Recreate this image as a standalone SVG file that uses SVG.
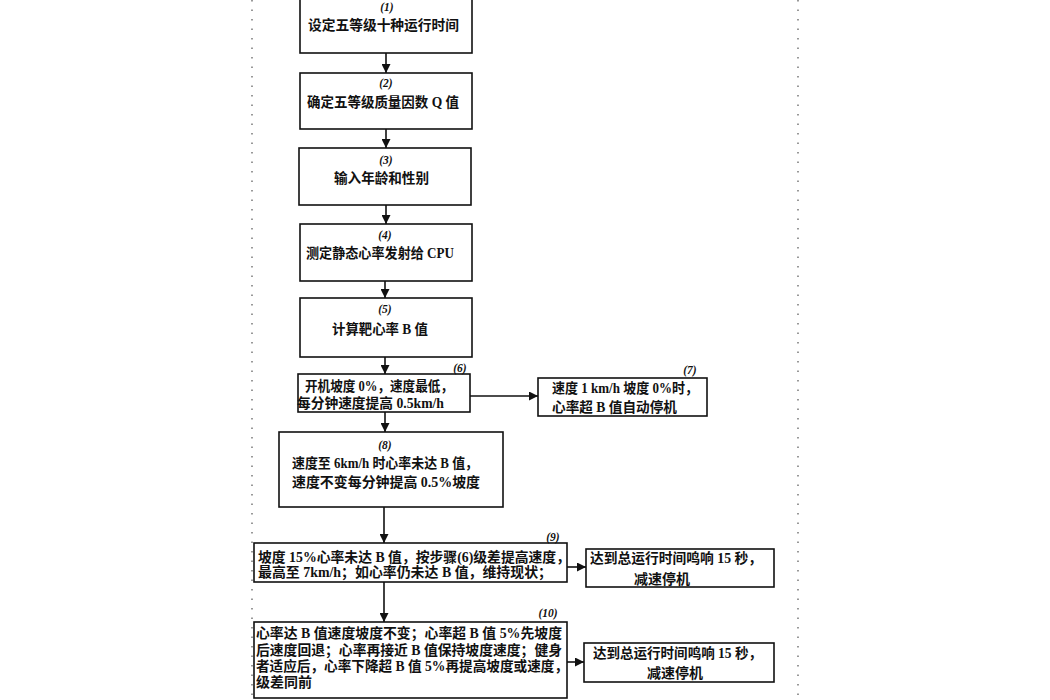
<svg xmlns="http://www.w3.org/2000/svg" width="1050" height="700" viewBox="0 0 1050 700">
<style>
.box{fill:#fff;stroke:#111;stroke-width:1.6}
.t{font-family:"Liberation Serif","Noto Sans CJK SC",serif;font-weight:bold;font-size:14px;fill:#111}
.n{font-family:"Liberation Serif","Noto Sans CJK SC",serif;font-weight:bold;font-style:italic;font-size:11.5px;fill:#111;text-anchor:middle}
.c{stroke:#111;stroke-width:1.6;fill:none;marker-end:url(#ah)}
.edge{stroke:#555;stroke-width:1.2;stroke-dasharray:1.5 8;fill:none}
</style>
<defs>
<marker id="ah" viewBox="0 0 10 10" refX="10" refY="5" markerWidth="9" markerHeight="9" markerUnits="userSpaceOnUse" orient="auto">
<path d="M0,0 L10,5 L0,10 z" fill="#111"/>
</marker>
</defs>
<rect width="1050" height="700" fill="#fff"/>
<g id="page-edges">
<line class="edge" x1="252" y1="0" x2="252" y2="700"/>
<line class="edge" x1="798" y1="0" x2="798" y2="700"/>
</g>
<g id="connectors">
<line class="c" x1="386" y1="53" x2="386" y2="73"/>
<line class="c" x1="386" y1="129" x2="386" y2="148"/>
<line class="c" x1="386" y1="205" x2="386" y2="224"/>
<line class="c" x1="385" y1="281" x2="385" y2="298"/>
<line class="c" x1="385" y1="357" x2="385" y2="374"/>
<line class="c" x1="470" y1="396" x2="538" y2="396"/>
<line class="c" x1="385" y1="412" x2="385" y2="432"/>
<line class="c" x1="384" y1="507" x2="384" y2="543"/>
<line class="c" x1="567" y1="567" x2="586" y2="567"/>
<line class="c" x1="384" y1="582" x2="384" y2="622"/>
<line class="c" x1="567" y1="662" x2="584" y2="662"/>
</g>
<g id="n1">
<rect class="box" x="300" y="-5" width="172" height="58"/>
<text class="n" x="387" y="11">(1)</text>
<text class="t" x="308" y="30" textLength="151" lengthAdjust="spacingAndGlyphs">设定五等级十种运行时间</text>
</g>
<g id="n2">
<rect class="box" x="300" y="73" width="172" height="56"/>
<text class="n" x="386" y="87">(2)</text>
<text class="t" x="307" y="107" textLength="152" lengthAdjust="spacingAndGlyphs">确定五等级质量因数 Q 值</text>
</g>
<g id="n3">
<rect class="box" x="299" y="148" width="172" height="57"/>
<text class="n" x="386" y="164">(3)</text>
<text class="t" x="334" y="183" textLength="95" lengthAdjust="spacingAndGlyphs">输入年龄和性别</text>
</g>
<g id="n4">
<rect class="box" x="300" y="224" width="172" height="57"/>
<text class="n" x="385" y="239">(4)</text>
<text class="t" x="306" y="258" textLength="148" lengthAdjust="spacingAndGlyphs">测定静态心率发射给 CPU</text>
</g>
<g id="n5">
<rect class="box" x="300" y="298" width="172" height="59"/>
<text class="n" x="385" y="313">(5)</text>
<text class="t" x="332" y="334" textLength="96" lengthAdjust="spacingAndGlyphs">计算靶心率 B 值</text>
</g>
<g id="n6">
<rect class="box" x="298" y="374" width="172" height="38"/>
<text class="n" x="460" y="372">(6)</text>
<text class="t" x="305" y="391" textLength="148" lengthAdjust="spacingAndGlyphs">开机坡度 0%，速度最低，</text>
<text class="t" x="297" y="408" textLength="147" lengthAdjust="spacingAndGlyphs">每分钟速度提高 0.5km/h</text>
</g>
<g id="n7">
<rect class="box" x="538" y="378" width="169" height="38"/>
<text class="n" x="690" y="374">(7)</text>
<text class="t" x="552" y="393" textLength="146" lengthAdjust="spacingAndGlyphs">速度 1 km/h 坡度 0%时，</text>
<text class="t" x="552" y="412" textLength="125" lengthAdjust="spacingAndGlyphs">心率超 B 值自动停机</text>
</g>
<g id="n8">
<rect class="box" x="279" y="432" width="224" height="75"/>
<text class="n" x="385" y="449">(8)</text>
<text class="t" x="292" y="468" textLength="186" lengthAdjust="spacingAndGlyphs">速度至 6km/h 时心率未达 B 值，</text>
<text class="t" x="292" y="487" textLength="188" lengthAdjust="spacingAndGlyphs">速度不变每分钟提高 0.5%坡度</text>
</g>
<g id="n9">
<rect class="box" x="254" y="543" width="313" height="39"/>
<text class="n" x="553" y="541">(9)</text>
<text class="t" x="258" y="562" textLength="312" lengthAdjust="spacingAndGlyphs">坡度 15%心率未达 B 值，按步骤(6)级差提高速度，</text>
<text class="t" x="258" y="577" textLength="294" lengthAdjust="spacingAndGlyphs">最高至 7km/h；如心率仍未达 B 值，维持现状；</text>
</g>
<g id="n9r">
<rect class="box" x="586" y="549" width="188" height="38"/>
<text class="t" x="590" y="563" textLength="172" lengthAdjust="spacingAndGlyphs">达到总运行时间鸣响 15 秒，</text>
<text class="t" x="662" y="584" text-anchor="middle">减速停机</text>
</g>
<g id="n10">
<rect class="box" x="254" y="622" width="313" height="76"/>
<text class="n" x="548" y="617">(10)</text>
<text class="t" x="256" y="638" textLength="306" lengthAdjust="spacingAndGlyphs">心率达 B 值速度坡度不变；心率超 B 值 5%先坡度</text>
<text class="t" x="256" y="655" textLength="306" lengthAdjust="spacingAndGlyphs">后速度回退；心率再接近 B 值保持坡度速度；健身</text>
<text class="t" x="256" y="671" textLength="312" lengthAdjust="spacingAndGlyphs">者适应后，心率下降超 B 值 5%再提高坡度或速度，</text>
<text class="t" x="256" y="687" textLength="56" lengthAdjust="spacingAndGlyphs">级差同前</text>
</g>
<g id="n11">
<rect class="box" x="584" y="643" width="190" height="39"/>
<text class="t" x="593" y="658" textLength="169" lengthAdjust="spacingAndGlyphs">达到总运行时间鸣响 15 秒，</text>
<text class="t" x="675" y="678" text-anchor="middle">减速停机</text>
</g>
</svg>
